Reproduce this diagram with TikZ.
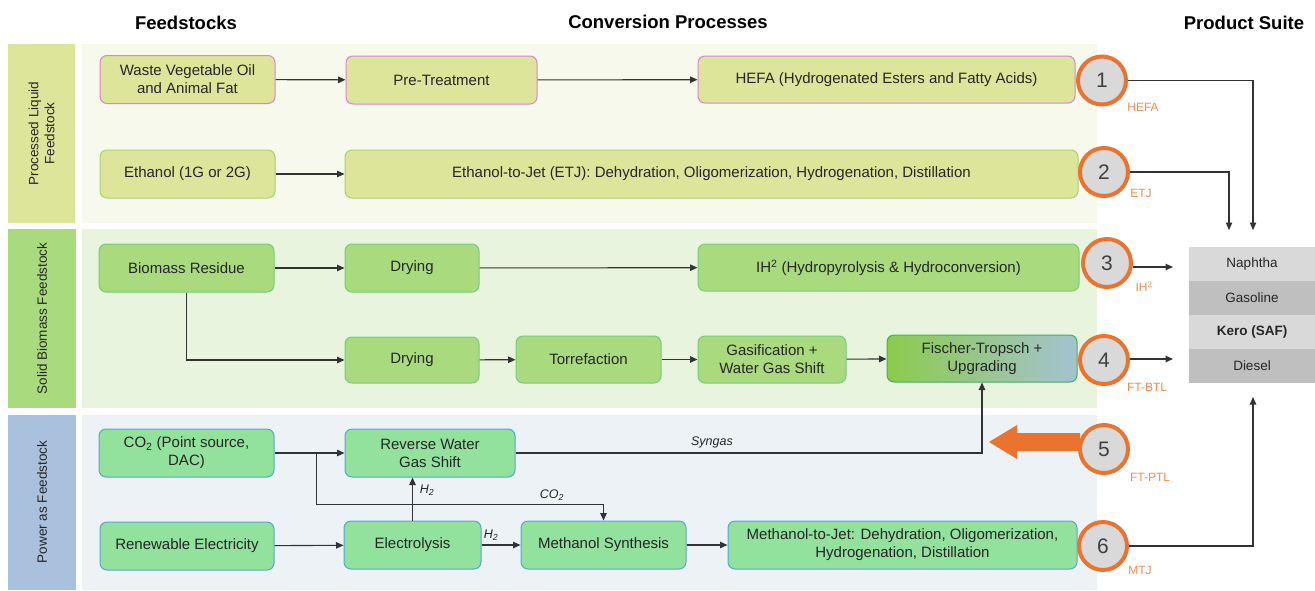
\documentclass[tikz,border=0pt]{standalone}
\usepackage{fontspec}
\setmainfont{Liberation Sans}
\usetikzlibrary{arrows.meta,calc}

\definecolor{liqfill}{HTML}{DCE59A}
\definecolor{liqpink}{HTML}{DC84D3}
\definecolor{liqgreen}{HTML}{A8D46C}
\definecolor{solfill}{HTML}{A9DA7E}
\definecolor{solline}{HTML}{72CF78}
\definecolor{powfill}{HTML}{92E19D}
\definecolor{powline}{HTML}{5AA5D3}
\definecolor{bandA}{HTML}{DCE59A}
\definecolor{bandB}{HTML}{A9DB7E}
\definecolor{bandC}{HTML}{A9C1DC}
\definecolor{panelA}{HTML}{F6F9EC}
\definecolor{panelB}{HTML}{E8F4DE}
\definecolor{panelC}{HTML}{EDF2F7}
\definecolor{ora}{HTML}{EB7330}
\definecolor{oratext}{HTML}{F08C50}
\definecolor{numgray}{HTML}{D9D9D9}
\definecolor{prodlight}{HTML}{D9D9D9}
\definecolor{proddark}{HTML}{BFBFBF}
\definecolor{txt}{HTML}{262626}
\definecolor{ftleft}{HTML}{8BCB4C}
\definecolor{ftright}{HTML}{A3C3D1}
\definecolor{ftline}{HTML}{3CB55A}

\tikzset{
  sz/.style 2 args={minimum width=#1, minimum height=#2},
  box/.style={rounded corners=7pt, line width=1pt, align=center, text=txt,
    inner sep=2pt, font=\fontsize{15}{18}\selectfont},
  liq/.style={box, fill=liqfill, draw=liqpink},
  liqg/.style={box, fill=liqfill, draw=liqgreen},
  sol/.style={box, fill=solfill, draw=solline},
  pow/.style={box, fill=powfill, draw=powline},
  num/.style={circle, draw=ora, line width=4pt, fill=numgray, minimum size=48pt,
    inner sep=0pt, text=black!75, font=\fontsize{21}{21}\selectfont},
  tag/.style={text=oratext, font=\fontsize{12}{13}\selectfont},
  flow/.style={draw=black!80, line width=1.1pt, -{Triangle[length=7.5pt,width=6.5pt]}},
  flowlabel/.style={font=\itshape\fontsize{12.5}{14}\selectfont, text=txt},
  header/.style={font=\bfseries\fontsize{18.5}{20}\selectfont, text=black},
  bandtext/.style={rotate=90, align=center, text=txt, font=\fontsize{13.5}{16}\selectfont},
  prod/.style={sz={126}{34}, inner sep=0pt, text=txt, font=\fontsize{13.5}{15}\selectfont},
}

\begin{document}
\begin{tikzpicture}[x=1pt,y=-1pt]
\useasboundingbox (0,0) rectangle (1315,590);

% row bands and panels
\fill[bandA] (8,44) rectangle (75,223);
\fill[bandB] (8,229) rectangle (76,408);
\fill[bandC] (8,415) rectangle (76,590);
\fill[panelA] (82,44) rectangle (1097,223);
\fill[panelB] (82,229) rectangle (1097,408);
\fill[panelC] (82,415) rectangle (1097,590);

\node[bandtext] (bandA) at (41.5,133.5) {Processed Liquid\\Feedstock};
\node[bandtext] (bandB) at (42,318.5) {Solid Biomass Feedstock};
\node[bandtext] (bandC) at (42,502) {Power as Feedstock};

% column headers
\node[header] (hfeed) at (186,23) {Feedstocks};
\node[header] (hconv) at (668,22) {Conversion Processes};
\node[header] (hprod) at (1244,23) {Product Suite};

% processed liquid feedstock
\node[liq, sz={175}{48}] (waste) at (187.5,79.5) {Waste Vegetable Oil\\and Animal Fat};
\node[liq, sz={191}{48}] (pre) at (441.5,80) {Pre-Treatment};
\node[liq, sz={377}{47}] (hefa) at (886.5,79.5) {HEFA (Hydrogenated Esters and Fatty Acids)};
\node[liqg, sz={175}{48}] (eth) at (187.5,174) {Ethanol (1G or 2G)};
\node[liqg, sz={733}{48}] (etj) at (711.5,174) {Ethanol-to-Jet (ETJ): Dehydration, Oligomerization, Hydrogenation, Distillation};

% solid biomass feedstock
\node[sol, sz={175}{48}] (bio) at (186.5,268) {Biomass Residue};
\node[sol, sz={134}{48}] (dry1) at (412,268) {Drying};
\node[sol, sz={381}{47}] (ih2) at (888.5,267.5) {IH\textsuperscript{2} (Hydropyrolysis \& Hydroconversion)};
\node[sol, sz={134}{46}] (dry2) at (412,360) {Drying};
\node[sol, sz={145}{47}] (torr) at (588.5,359.5) {Torrefaction};
\node[sol, sz={148}{47}] (gas) at (772,359.5) {Gasification +\\Water Gas Shift};
\node[box, sz={190}{47}, draw=ftline, left color=ftleft, right color=ftright] (ft) at (982,358.5) {Fischer-Tropsch +\\Upgrading};

% power as feedstock
\node[pow, sz={175}{48}] (co2) at (186.5,453) {CO\textsubscript{2} (Point source,\\DAC)};
\node[pow, sz={170}{48}] (rwgs) at (430,453) {Reverse Water\\Gas Shift};
\node[pow, sz={174}{48}] (ren) at (187,546) {Renewable Electricity};
\node[pow, sz={137}{48}] (elec) at (412.5,545) {Electrolysis};
\node[pow, sz={165}{48}] (meth) at (603.5,545) {Methanol Synthesis};
\node[pow, sz={349}{48}] (mtj) at (902.5,545) {Methanol-to-Jet: Dehydration, Oligomerization,\\Hydrogenation, Distillation};

% product suite
\node[prod, fill=prodlight] (naph) at (1252,264) {Naphtha};
\node[prod, fill=proddark] (gaso) at (1252,298) {Gasoline};
\node[prod, fill=prodlight, font=\bfseries\fontsize{13.5}{15}\selectfont] (kero) at (1252,332) {Kero (SAF)};
\node[prod, fill=proddark] (dies) at (1252,366) {Diesel};

% process chains
\draw[flow] (waste) -- (pre);
\draw[flow] (pre) -- (hefa);
\draw[flow] (eth) -- (etj);
\draw[flow] (bio) -- (dry1);
\draw[flow] (dry1) -- (ih2);
\draw[flow] (bio.south) |- (dry2.west);
\draw[flow] (dry2) -- (torr);
\draw[flow] (torr) -- (gas);
\draw[flow] (gas) -- (ft);
\draw[flow] (co2) -- (rwgs);
\draw[flow] ($(co2.east)+(42,0)$) |- ($(meth.north)+(0,-16)$) -- (meth.north);
\node[flowlabel] (lco2) at (552,495) {CO\textsubscript{2}};
\draw[flow] (elec.north) -- (elec.north |- rwgs.south);
\node[flowlabel] (lh2a) at (427,490) {H\textsubscript{2}};
\draw[flow] (ren) -- (elec);
\draw[flow] (elec) -- (meth);
\node[flowlabel] (lh2b) at (491,535) {H\textsubscript{2}};
\draw[flow] (meth) -- (mtj);
\draw[flow] (rwgs.east) -| (ft.south);
\node[flowlabel] (lsyn) at (712,442) {Syngas};

% routes to the product suite
\coordinate (p1) at (1253,230);
\coordinate (p2) at (1229,230);
\coordinate (p3) at (1173,267);
\coordinate (p4) at (1173,359);
\coordinate (p6) at (1253,397);

% FT-PTL feeds the Fischer-Tropsch step
\fill[ora] (1080,433) -- (1017,433) -- (1017,425) -- (989,442) -- (1017,459) -- (1017,451) -- (1080,451) -- cycle;

\node[num] (c1) at (1102,80.5) {1};
\node[num] (c2) at (1104,172) {2};
\node[num] (c3) at (1107,263) {3};
\node[num] (c4) at (1104,360) {4};
\node[num] (c5) at (1104,449) {5};
\node[num] (c6) at (1103,546) {6};

\draw[flow] (c1.east) -| (p1);
\draw[flow] (c2.east) -| (p2);
\draw[flow] (c3.east |- p3) -- (p3);
\draw[flow] (c4.east |- p4) -- (p4);
\draw[flow] (c6.east) -| (p6);

\node[tag] (t1) at (1143,107) {HEFA};
\node[tag] (t2) at (1141,193) {ETJ};
\node[tag] (t3) at (1144,287) {IH\textsuperscript{2}};
\node[tag] (t4) at (1147,387) {FT-BTL};
\node[tag] (t5) at (1150,477) {FT-PTL};
\node[tag] (t6) at (1140,570) {MTJ};
\end{tikzpicture}
\end{document}
